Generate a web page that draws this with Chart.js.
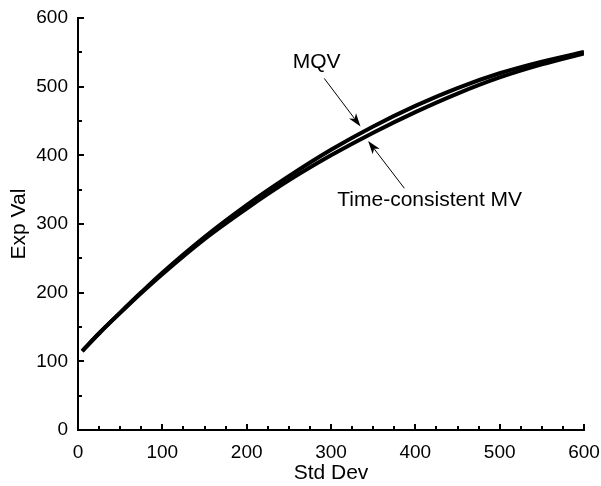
<!DOCTYPE html>
<html>
<head>
<meta charset="utf-8">
<script src="https://cdn.jsdelivr.net/npm/chart.js@4/dist/chart.umd.min.js"></script>
<style>
  html, body { margin: 0; padding: 0; background: #fff; }
  #wrap { width: 601px; height: 486px; }
</style>
</head>
<body>
<div id="wrap"><canvas id="frontier"></canvas></div>
<script>
// frontier samples: std dev on x, expected value on y
const stdDev = [5, 25, 50, 75, 100, 150, 200, 250, 300, 350, 400, 450, 500, 550, 600];
const mqvVals = [115, 141, 171, 200.5, 229, 281, 327.5, 369.5, 408, 442, 472, 498, 519.5, 536.5, 550.5];
const tcmvVals = [115, 140.5, 170.5, 199.5, 227, 278, 322.5, 363.5, 400, 433, 463, 490, 513.5, 532.5, 548.5];

const xTicks = [0, 100, 200, 300, 400, 500, 600];
const yTicks = [0, 100, 200, 300, 400, 500, 600];

// callouts: label position, arrow tail and arrow tip (data units)
const callouts = [
  { text: 'MQV', at: [283, 536], from: [292, 512], to: [335, 442] },
  { text: 'Time-consistent MV', at: [417, 335], from: [387, 352], to: [344, 421] }
];

const FONT = '"Liberation Sans", Arial, Helvetica, sans-serif';

function toPoints(xs, ys) {
  return xs.map((x, i) => ({ x, y: ys[i] }));
}

// inward major/minor ticks on both axes
const innerTicks = {
  id: 'innerTicks',
  afterDraw(chart) {
    const { ctx, scales } = chart;
    const xs = scales.x;
    const ys = scales.y;
    ctx.save();
    ctx.strokeStyle = '#000';
    ctx.lineWidth = 2;
    for (let v = 0; v <= 600; v += 25) {
      const px = Math.round(xs.getPixelForValue(v));
      const len = v % 100 === 0 ? 6 : 4;
      ctx.beginPath();
      ctx.moveTo(px, ys.bottom);
      ctx.lineTo(px, ys.bottom - len);
      ctx.stroke();
    }
    for (let v = 0; v <= 600; v += 50) {
      const py = Math.round(ys.getPixelForValue(v));
      const len = v % 100 === 0 ? 6 : 4;
      ctx.beginPath();
      ctx.moveTo(xs.left, py);
      ctx.lineTo(xs.left + len, py);
      ctx.stroke();
    }
    ctx.restore();
  }
};

const arrowNotes = {
  id: 'arrowNotes',
  afterDatasetsDraw(chart) {
    const { ctx, scales } = chart;
    const px = (p) => [scales.x.getPixelForValue(p[0]), scales.y.getPixelForValue(p[1])];
    ctx.save();
    ctx.fillStyle = '#000';
    ctx.strokeStyle = '#000';
    ctx.font = '21px ' + FONT;
    ctx.textAlign = 'center';
    ctx.textBaseline = 'middle';
    callouts.forEach((c) => {
      const [tx, ty] = px(c.at);
      ctx.fillText(c.text, tx, ty);
      const [x0, y0] = px(c.from);
      const [x1, y1] = px(c.to);
      const ang = Math.atan2(y1 - y0, x1 - x0);
      const head = 14;
      const spread = 0.32;
      ctx.lineWidth = 1;
      ctx.beginPath();
      ctx.moveTo(x0, y0);
      ctx.lineTo(x1 - Math.cos(ang) * head * 0.7, y1 - Math.sin(ang) * head * 0.7);
      ctx.stroke();
      ctx.beginPath();
      ctx.moveTo(x1, y1);
      ctx.lineTo(x1 - head * Math.cos(ang - spread), y1 - head * Math.sin(ang - spread));
      ctx.lineTo(x1 - head * 0.7 * Math.cos(ang), y1 - head * 0.7 * Math.sin(ang));
      ctx.lineTo(x1 - head * Math.cos(ang + spread), y1 - head * Math.sin(ang + spread));
      ctx.closePath();
      ctx.fill();
    });
    ctx.restore();
  }
};

const lineStyle = {
  borderColor: '#000',
  borderWidth: 4,
  pointRadius: 0,
  fill: false,
  cubicInterpolationMode: 'monotone'
};

new Chart(document.getElementById('frontier'), {
  type: 'line',
  data: {
    datasets: [
      { label: 'MQV', data: toPoints(stdDev, mqvVals), ...lineStyle },
      { label: 'Time-consistent MV', data: toPoints(stdDev, tcmvVals), ...lineStyle }
    ]
  },
  options: {
    responsive: true,
    maintainAspectRatio: false,
    animation: false,
    layout: { padding: { top: 18, right: 17, left: 0, bottom: 0 } },
    plugins: { legend: { display: false }, tooltip: { enabled: false } },
    scales: {
      x: {
        type: 'linear',
        min: 0,
        max: 600,
        afterBuildTicks: (s) => { s.ticks = xTicks.map((v) => ({ value: v })); },
        afterFit: (s) => {
          s.height = 56;
          s.paddingLeft = 0;
          s.paddingRight = 0;
        },
        border: { display: true, color: '#000', width: 2 },
        grid: { display: false, drawTicks: false },
        ticks: { color: '#000', padding: 11, maxRotation: 0, font: { family: FONT, size: 19 } },
        title: { display: true, text: 'Std Dev', color: '#000', padding: { top: 0, bottom: 0 }, font: { family: FONT, size: 21 } }
      },
      y: {
        type: 'linear',
        min: 0,
        max: 600,
        afterBuildTicks: (s) => { s.ticks = yTicks.map((v) => ({ value: v })); },
        afterFit: (s) => {
          s.width = 78;
          s.paddingTop = 0;
          s.paddingBottom = 0;
        },
        border: { display: true, color: '#000', width: 2 },
        grid: { display: false, drawTicks: false },
        ticks: { color: '#000', padding: 10, font: { family: FONT, size: 19 } },
        title: { display: true, text: 'Exp Val', color: '#000', padding: { top: 7, bottom: 0 }, font: { family: FONT, size: 21 } }
      }
    }
  },
  plugins: [innerTicks, arrowNotes]
});
</script>
</body>
</html>
